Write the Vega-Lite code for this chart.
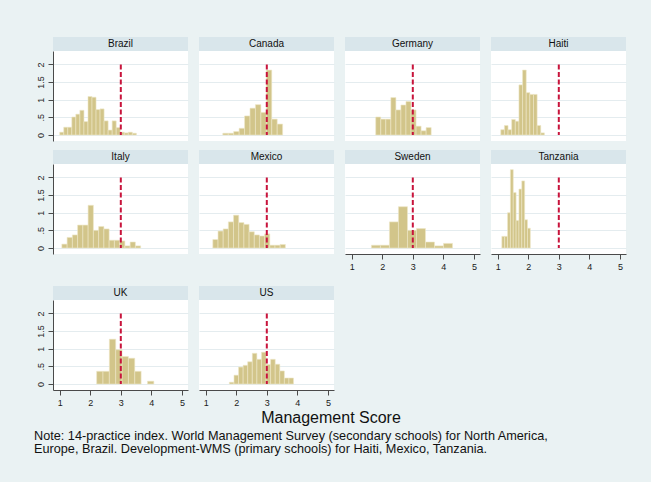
{
  "$schema": "https://vega.github.io/schema/vega-lite/v6.json",
  "background": "#EAF2F3",
  "padding": {"left": 33, "top": 37, "right": 26, "bottom": 26},
  "config": {
    "font": "Liberation Sans",
    "view": {"stroke": null},
    "axis": {"title": null, "domainColor": "#4a4a4a", "tickColor": "#4a4a4a", "labelColor": "#1a1a1a", "labelFontSize": 9, "tickSize": 5, "labelPadding": 3, "gridColor": "#E4ECEF", "gridWidth": 1},
    "axisX": {"grid": false, "labelFlush": false},
    "axisY": {"grid": true, "labelAngle": 270}
  },
  "datasets": {
    "bars": [
      {"country": "Brazil", "score": 1.000, "score_end": 1.132, "density": 0.08},
      {"country": "Brazil", "score": 1.132, "score_end": 1.264, "density": 0.22},
      {"country": "Brazil", "score": 1.264, "score_end": 1.396, "density": 0.22},
      {"country": "Brazil", "score": 1.396, "score_end": 1.528, "density": 0.51},
      {"country": "Brazil", "score": 1.528, "score_end": 1.660, "density": 0.59},
      {"country": "Brazil", "score": 1.660, "score_end": 1.793, "density": 0.70},
      {"country": "Brazil", "score": 1.793, "score_end": 1.925, "density": 0.38},
      {"country": "Brazil", "score": 1.925, "score_end": 2.057, "density": 1.09},
      {"country": "Brazil", "score": 2.057, "score_end": 2.189, "density": 1.07},
      {"country": "Brazil", "score": 2.189, "score_end": 2.321, "density": 0.72},
      {"country": "Brazil", "score": 2.321, "score_end": 2.453, "density": 0.74},
      {"country": "Brazil", "score": 2.453, "score_end": 2.585, "density": 0.40},
      {"country": "Brazil", "score": 2.585, "score_end": 2.717, "density": 0.14},
      {"country": "Brazil", "score": 2.717, "score_end": 2.849, "density": 0.40},
      {"country": "Brazil", "score": 2.849, "score_end": 2.982, "density": 0.21},
      {"country": "Brazil", "score": 2.982, "score_end": 3.114, "density": 0.08},
      {"country": "Brazil", "score": 3.114, "score_end": 3.246, "density": 0.06},
      {"country": "Brazil", "score": 3.246, "score_end": 3.378, "density": 0.08},
      {"country": "Brazil", "score": 3.378, "score_end": 3.510, "density": 0.05},

      {"country": "Canada", "score": 1.560, "score_end": 1.738, "density": 0.05},
      {"country": "Canada", "score": 1.738, "score_end": 1.916, "density": 0.05},
      {"country": "Canada", "score": 1.916, "score_end": 2.094, "density": 0.10},
      {"country": "Canada", "score": 2.094, "score_end": 2.272, "density": 0.19},
      {"country": "Canada", "score": 2.272, "score_end": 2.450, "density": 0.54},
      {"country": "Canada", "score": 2.450, "score_end": 2.628, "density": 0.76},
      {"country": "Canada", "score": 2.628, "score_end": 2.806, "density": 0.86},
      {"country": "Canada", "score": 2.806, "score_end": 2.984, "density": 0.64},
      {"country": "Canada", "score": 2.984, "score_end": 3.162, "density": 1.84},
      {"country": "Canada", "score": 3.162, "score_end": 3.340, "density": 0.45},
      {"country": "Canada", "score": 3.340, "score_end": 3.518, "density": 0.31},

      {"country": "Germany", "score": 1.786, "score_end": 1.951, "density": 0.51},
      {"country": "Germany", "score": 1.951, "score_end": 2.116, "density": 0.45},
      {"country": "Germany", "score": 2.116, "score_end": 2.281, "density": 0.45},
      {"country": "Germany", "score": 2.281, "score_end": 2.446, "density": 1.06},
      {"country": "Germany", "score": 2.446, "score_end": 2.611, "density": 0.71},
      {"country": "Germany", "score": 2.611, "score_end": 2.776, "density": 0.85},
      {"country": "Germany", "score": 2.776, "score_end": 2.941, "density": 0.95},
      {"country": "Germany", "score": 2.941, "score_end": 3.106, "density": 0.71},
      {"country": "Germany", "score": 3.106, "score_end": 3.271, "density": 0.25},
      {"country": "Germany", "score": 3.271, "score_end": 3.436, "density": 0.12},
      {"country": "Germany", "score": 3.436, "score_end": 3.601, "density": 0.21},

      {"country": "Haiti", "score": 1.100, "score_end": 1.219, "density": 0.15},
      {"country": "Haiti", "score": 1.219, "score_end": 1.338, "density": 0.27},
      {"country": "Haiti", "score": 1.338, "score_end": 1.457, "density": 0.15},
      {"country": "Haiti", "score": 1.457, "score_end": 1.576, "density": 0.44},
      {"country": "Haiti", "score": 1.576, "score_end": 1.695, "density": 0.39},
      {"country": "Haiti", "score": 1.695, "score_end": 1.814, "density": 1.42},
      {"country": "Haiti", "score": 1.814, "score_end": 1.933, "density": 1.84},
      {"country": "Haiti", "score": 1.933, "score_end": 2.052, "density": 1.20},
      {"country": "Haiti", "score": 2.052, "score_end": 2.171, "density": 1.15},
      {"country": "Haiti", "score": 2.171, "score_end": 2.290, "density": 1.15},
      {"country": "Haiti", "score": 2.290, "score_end": 2.409, "density": 0.27},
      {"country": "Haiti", "score": 2.409, "score_end": 2.528, "density": 0.06},

      {"country": "Italy", "score": 1.070, "score_end": 1.242, "density": 0.11},
      {"country": "Italy", "score": 1.242, "score_end": 1.414, "density": 0.30},
      {"country": "Italy", "score": 1.414, "score_end": 1.586, "density": 0.37},
      {"country": "Italy", "score": 1.586, "score_end": 1.758, "density": 0.65},
      {"country": "Italy", "score": 1.758, "score_end": 1.930, "density": 0.65},
      {"country": "Italy", "score": 1.930, "score_end": 2.102, "density": 1.21},
      {"country": "Italy", "score": 2.102, "score_end": 2.274, "density": 0.50},
      {"country": "Italy", "score": 2.274, "score_end": 2.446, "density": 0.61},
      {"country": "Italy", "score": 2.446, "score_end": 2.618, "density": 0.54},
      {"country": "Italy", "score": 2.618, "score_end": 2.790, "density": 0.22},
      {"country": "Italy", "score": 2.790, "score_end": 2.962, "density": 0.22},
      {"country": "Italy", "score": 2.962, "score_end": 3.134, "density": 0.20},
      {"country": "Italy", "score": 3.134, "score_end": 3.306, "density": 0.06},
      {"country": "Italy", "score": 3.306, "score_end": 3.478, "density": 0.17},
      {"country": "Italy", "score": 3.478, "score_end": 3.650, "density": 0.06},

      {"country": "Mexico", "score": 1.233, "score_end": 1.403, "density": 0.24},
      {"country": "Mexico", "score": 1.403, "score_end": 1.572, "density": 0.48},
      {"country": "Mexico", "score": 1.572, "score_end": 1.742, "density": 0.54},
      {"country": "Mexico", "score": 1.742, "score_end": 1.911, "density": 0.74},
      {"country": "Mexico", "score": 1.911, "score_end": 2.081, "density": 0.93},
      {"country": "Mexico", "score": 2.081, "score_end": 2.251, "density": 0.72},
      {"country": "Mexico", "score": 2.251, "score_end": 2.420, "density": 0.67},
      {"country": "Mexico", "score": 2.420, "score_end": 2.590, "density": 0.46},
      {"country": "Mexico", "score": 2.590, "score_end": 2.759, "density": 0.37},
      {"country": "Mexico", "score": 2.759, "score_end": 2.929, "density": 0.34},
      {"country": "Mexico", "score": 2.929, "score_end": 3.098, "density": 0.40},
      {"country": "Mexico", "score": 3.098, "score_end": 3.268, "density": 0.08},
      {"country": "Mexico", "score": 3.268, "score_end": 3.437, "density": 0.08},
      {"country": "Mexico", "score": 3.437, "score_end": 3.607, "density": 0.10},

      {"country": "Sweden", "score": 1.645, "score_end": 1.940, "density": 0.08},
      {"country": "Sweden", "score": 1.940, "score_end": 2.235, "density": 0.08},
      {"country": "Sweden", "score": 2.235, "score_end": 2.530, "density": 0.74},
      {"country": "Sweden", "score": 2.530, "score_end": 2.825, "density": 1.17},
      {"country": "Sweden", "score": 2.825, "score_end": 3.120, "density": 0.50},
      {"country": "Sweden", "score": 3.120, "score_end": 3.415, "density": 0.55},
      {"country": "Sweden", "score": 3.415, "score_end": 3.710, "density": 0.17},
      {"country": "Sweden", "score": 3.710, "score_end": 4.005, "density": 0.06},
      {"country": "Sweden", "score": 4.005, "score_end": 4.300, "density": 0.13},

      {"country": "Tanzania", "score": 1.135, "score_end": 1.228, "density": 0.33},
      {"country": "Tanzania", "score": 1.228, "score_end": 1.322, "density": 0.33},
      {"country": "Tanzania", "score": 1.322, "score_end": 1.415, "density": 1.00},
      {"country": "Tanzania", "score": 1.415, "score_end": 1.508, "density": 2.22},
      {"country": "Tanzania", "score": 1.508, "score_end": 1.602, "density": 1.57},
      {"country": "Tanzania", "score": 1.602, "score_end": 1.695, "density": 0.78},
      {"country": "Tanzania", "score": 1.695, "score_end": 1.788, "density": 1.67},
      {"country": "Tanzania", "score": 1.788, "score_end": 1.882, "density": 1.90},
      {"country": "Tanzania", "score": 1.882, "score_end": 1.975, "density": 0.80},
      {"country": "Tanzania", "score": 1.975, "score_end": 2.068, "density": 0.56},

      {"country": "UK", "score": 2.209, "score_end": 2.417, "density": 0.36},
      {"country": "UK", "score": 2.417, "score_end": 2.625, "density": 0.36},
      {"country": "UK", "score": 2.625, "score_end": 2.833, "density": 1.27},
      {"country": "UK", "score": 2.833, "score_end": 3.041, "density": 0.97},
      {"country": "UK", "score": 3.041, "score_end": 3.249, "density": 0.78},
      {"country": "UK", "score": 3.249, "score_end": 3.457, "density": 0.73},
      {"country": "UK", "score": 3.457, "score_end": 3.665, "density": 0.36},
      {"country": "UK", "score": 3.873, "score_end": 4.081, "density": 0.08},

      {"country": "US", "score": 1.775, "score_end": 1.925, "density": 0.05},
      {"country": "US", "score": 1.925, "score_end": 2.075, "density": 0.25},
      {"country": "US", "score": 2.075, "score_end": 2.225, "density": 0.48},
      {"country": "US", "score": 2.225, "score_end": 2.375, "density": 0.53},
      {"country": "US", "score": 2.375, "score_end": 2.525, "density": 0.63},
      {"country": "US", "score": 2.525, "score_end": 2.675, "density": 0.87},
      {"country": "US", "score": 2.675, "score_end": 2.825, "density": 0.70},
      {"country": "US", "score": 2.825, "score_end": 2.975, "density": 0.90},
      {"country": "US", "score": 2.975, "score_end": 3.125, "density": 0.55},
      {"country": "US", "score": 3.125, "score_end": 3.275, "density": 0.70},
      {"country": "US", "score": 3.275, "score_end": 3.425, "density": 0.56},
      {"country": "US", "score": 3.425, "score_end": 3.575, "density": 0.37},
      {"country": "US", "score": 3.575, "score_end": 3.725, "density": 0.17},
      {"country": "US", "score": 3.725, "score_end": 3.875, "density": 0.17}
    ]
  },
  "title": {
    "text": ["Note: 14-practice index. World Management Survey (secondary schools) for North America,", "Europe, Brazil. Development-WMS (primary schools) for Haiti, Mexico, Tanzania."],
    "orient": "bottom", "anchor": "start", "fontSize": 12.7, "fontWeight": "normal", "lineHeight": 13, "offset": 4, "dx": -2, "color": "#111111"
  },
  "vconcat": [
    {
      "title": {"text": "Management Score", "orient": "bottom", "anchor": "middle", "fontSize": 16, "fontWeight": "normal", "offset": 3, "color": "#111111"},
      "spacing": 15,
      "vconcat": [
        {
          "spacing": 9,
          "vconcat": [
            {
              "concat": [
                {"width": 135, "height": 14, "view": {"fill": "#D9E6EB", "stroke": null}, "data": {"values": [{"country": "Brazil"}]}, "mark": {"type": "text", "fontSize": 10, "color": "#111111"}, "encoding": {"text": {"field": "country", "type": "nominal"}}},
                {"width": 135, "height": 14, "view": {"fill": "#D9E6EB", "stroke": null}, "data": {"values": [{"country": "Canada"}]}, "mark": {"type": "text", "fontSize": 10, "color": "#111111"}, "encoding": {"text": {"field": "country", "type": "nominal"}}},
                {"width": 135, "height": 14, "view": {"fill": "#D9E6EB", "stroke": null}, "data": {"values": [{"country": "Germany"}]}, "mark": {"type": "text", "fontSize": 10, "color": "#111111"}, "encoding": {"text": {"field": "country", "type": "nominal"}}},
                {"width": 135, "height": 14, "view": {"fill": "#D9E6EB", "stroke": null}, "data": {"values": [{"country": "Haiti"}]}, "mark": {"type": "text", "fontSize": 10, "color": "#111111"}, "encoding": {"text": {"field": "country", "type": "nominal"}}},
                {
                  "width": 135, "height": 90, "view": {"fill": "white", "stroke": null},
                  "encoding": {
                    "x": {"field": "score", "type": "quantitative", "scale": {"domain": [0.78, 5.2], "nice": false, "zero": false}, "axis": null},
                    "y": {"field": "density", "type": "quantitative", "scale": {"domain": [-0.17, 2.38], "nice": false, "zero": false}, "axis": {"values": [0, 0.5, 1, 1.5, 2], "labelExpr": "datum.value == 0.5 ? '.5' : format(datum.value, '~g')"}},
                    "y2": {"datum": 0}
                  },
                  "layer": [
                    {"data": {"name": "bars"}, "transform": [{"filter": "datum.country === 'Brazil'"}], "mark": {"type": "rect", "fill": "#D2C58A", "stroke": "#EEE8C8", "strokeWidth": 0.6}, "encoding": {"x2": {"field": "score_end"}}},
                    {"data": {"values": [{"score": 3, "density": 2}]}, "mark": {"type": "rule", "color": "#C8143C", "strokeWidth": 2, "strokeDash": [5, 2.5]}}
                  ]
                },
                {
                  "width": 135, "height": 90, "view": {"fill": "white", "stroke": null},
                  "encoding": {
                    "x": {"field": "score", "type": "quantitative", "scale": {"domain": [0.78, 5.2], "nice": false, "zero": false}, "axis": null},
                    "y": {"field": "density", "type": "quantitative", "scale": {"domain": [-0.17, 2.38], "nice": false, "zero": false}, "axis": {"values": [0, 0.5, 1, 1.5, 2], "domain": false, "ticks": false, "labels": false}},
                    "y2": {"datum": 0}
                  },
                  "layer": [
                    {"data": {"name": "bars"}, "transform": [{"filter": "datum.country === 'Canada'"}], "mark": {"type": "rect", "fill": "#D2C58A", "stroke": "#EEE8C8", "strokeWidth": 0.6}, "encoding": {"x2": {"field": "score_end"}}},
                    {"data": {"values": [{"score": 3, "density": 2}]}, "mark": {"type": "rule", "color": "#C8143C", "strokeWidth": 2, "strokeDash": [5, 2.5]}}
                  ]
                },
                {
                  "width": 135, "height": 90, "view": {"fill": "white", "stroke": null},
                  "encoding": {
                    "x": {"field": "score", "type": "quantitative", "scale": {"domain": [0.78, 5.2], "nice": false, "zero": false}, "axis": null},
                    "y": {"field": "density", "type": "quantitative", "scale": {"domain": [-0.17, 2.38], "nice": false, "zero": false}, "axis": {"values": [0, 0.5, 1, 1.5, 2], "domain": false, "ticks": false, "labels": false}},
                    "y2": {"datum": 0}
                  },
                  "layer": [
                    {"data": {"name": "bars"}, "transform": [{"filter": "datum.country === 'Germany'"}], "mark": {"type": "rect", "fill": "#D2C58A", "stroke": "#EEE8C8", "strokeWidth": 0.6}, "encoding": {"x2": {"field": "score_end"}}},
                    {"data": {"values": [{"score": 3, "density": 2}]}, "mark": {"type": "rule", "color": "#C8143C", "strokeWidth": 2, "strokeDash": [5, 2.5]}}
                  ]
                },
                {
                  "width": 135, "height": 90, "view": {"fill": "white", "stroke": null},
                  "encoding": {
                    "x": {"field": "score", "type": "quantitative", "scale": {"domain": [0.78, 5.2], "nice": false, "zero": false}, "axis": null},
                    "y": {"field": "density", "type": "quantitative", "scale": {"domain": [-0.17, 2.38], "nice": false, "zero": false}, "axis": {"values": [0, 0.5, 1, 1.5, 2], "domain": false, "ticks": false, "labels": false}},
                    "y2": {"datum": 0}
                  },
                  "layer": [
                    {"data": {"name": "bars"}, "transform": [{"filter": "datum.country === 'Haiti'"}], "mark": {"type": "rect", "fill": "#D2C58A", "stroke": "#EEE8C8", "strokeWidth": 0.6}, "encoding": {"x2": {"field": "score_end"}}},
                    {"data": {"values": [{"score": 3, "density": 2}]}, "mark": {"type": "rule", "color": "#C8143C", "strokeWidth": 2, "strokeDash": [5, 2.5]}}
                  ]
                }
              ],
              "columns": 4,
              "spacing": {"row": 0, "column": 11},
              "bounds": "flush"
            },
            {
              "concat": [
                {"width": 135, "height": 14, "view": {"fill": "#D9E6EB", "stroke": null}, "data": {"values": [{"country": "Italy"}]}, "mark": {"type": "text", "fontSize": 10, "color": "#111111"}, "encoding": {"text": {"field": "country", "type": "nominal"}}},
                {"width": 135, "height": 14, "view": {"fill": "#D9E6EB", "stroke": null}, "data": {"values": [{"country": "Mexico"}]}, "mark": {"type": "text", "fontSize": 10, "color": "#111111"}, "encoding": {"text": {"field": "country", "type": "nominal"}}},
                {"width": 135, "height": 14, "view": {"fill": "#D9E6EB", "stroke": null}, "data": {"values": [{"country": "Sweden"}]}, "mark": {"type": "text", "fontSize": 10, "color": "#111111"}, "encoding": {"text": {"field": "country", "type": "nominal"}}},
                {"width": 135, "height": 14, "view": {"fill": "#D9E6EB", "stroke": null}, "data": {"values": [{"country": "Tanzania"}]}, "mark": {"type": "text", "fontSize": 10, "color": "#111111"}, "encoding": {"text": {"field": "country", "type": "nominal"}}},
                {
                  "width": 135, "height": 90, "view": {"fill": "white", "stroke": null},
                  "encoding": {
                    "x": {"field": "score", "type": "quantitative", "scale": {"domain": [0.78, 5.2], "nice": false, "zero": false}, "axis": null},
                    "y": {"field": "density", "type": "quantitative", "scale": {"domain": [-0.17, 2.38], "nice": false, "zero": false}, "axis": {"values": [0, 0.5, 1, 1.5, 2], "labelExpr": "datum.value == 0.5 ? '.5' : format(datum.value, '~g')"}},
                    "y2": {"datum": 0}
                  },
                  "layer": [
                    {"data": {"name": "bars"}, "transform": [{"filter": "datum.country === 'Italy'"}], "mark": {"type": "rect", "fill": "#D2C58A", "stroke": "#EEE8C8", "strokeWidth": 0.6}, "encoding": {"x2": {"field": "score_end"}}},
                    {"data": {"values": [{"score": 3, "density": 2}]}, "mark": {"type": "rule", "color": "#C8143C", "strokeWidth": 2, "strokeDash": [5, 2.5]}}
                  ]
                },
                {
                  "width": 135, "height": 90, "view": {"fill": "white", "stroke": null},
                  "encoding": {
                    "x": {"field": "score", "type": "quantitative", "scale": {"domain": [0.78, 5.2], "nice": false, "zero": false}, "axis": null},
                    "y": {"field": "density", "type": "quantitative", "scale": {"domain": [-0.17, 2.38], "nice": false, "zero": false}, "axis": {"values": [0, 0.5, 1, 1.5, 2], "domain": false, "ticks": false, "labels": false}},
                    "y2": {"datum": 0}
                  },
                  "layer": [
                    {"data": {"name": "bars"}, "transform": [{"filter": "datum.country === 'Mexico'"}], "mark": {"type": "rect", "fill": "#D2C58A", "stroke": "#EEE8C8", "strokeWidth": 0.6}, "encoding": {"x2": {"field": "score_end"}}},
                    {"data": {"values": [{"score": 3, "density": 2}]}, "mark": {"type": "rule", "color": "#C8143C", "strokeWidth": 2, "strokeDash": [5, 2.5]}}
                  ]
                },
                {
                  "width": 135, "height": 90, "view": {"fill": "white", "stroke": null},
                  "encoding": {
                    "x": {"field": "score", "type": "quantitative", "scale": {"domain": [0.78, 5.2], "nice": false, "zero": false}, "axis": {"values": [1, 2, 3, 4, 5], "format": "d"}},
                    "y": {"field": "density", "type": "quantitative", "scale": {"domain": [-0.17, 2.38], "nice": false, "zero": false}, "axis": {"values": [0, 0.5, 1, 1.5, 2], "domain": false, "ticks": false, "labels": false}},
                    "y2": {"datum": 0}
                  },
                  "layer": [
                    {"data": {"name": "bars"}, "transform": [{"filter": "datum.country === 'Sweden'"}], "mark": {"type": "rect", "fill": "#D2C58A", "stroke": "#EEE8C8", "strokeWidth": 0.6}, "encoding": {"x2": {"field": "score_end"}}},
                    {"data": {"values": [{"score": 3, "density": 2}]}, "mark": {"type": "rule", "color": "#C8143C", "strokeWidth": 2, "strokeDash": [5, 2.5]}}
                  ]
                },
                {
                  "width": 135, "height": 90, "view": {"fill": "white", "stroke": null},
                  "encoding": {
                    "x": {"field": "score", "type": "quantitative", "scale": {"domain": [0.78, 5.2], "nice": false, "zero": false}, "axis": {"values": [1, 2, 3, 4, 5], "format": "d"}},
                    "y": {"field": "density", "type": "quantitative", "scale": {"domain": [-0.17, 2.38], "nice": false, "zero": false}, "axis": {"values": [0, 0.5, 1, 1.5, 2], "domain": false, "ticks": false, "labels": false}},
                    "y2": {"datum": 0}
                  },
                  "layer": [
                    {"data": {"name": "bars"}, "transform": [{"filter": "datum.country === 'Tanzania'"}], "mark": {"type": "rect", "fill": "#D2C58A", "stroke": "#EEE8C8", "strokeWidth": 0.6}, "encoding": {"x2": {"field": "score_end"}}},
                    {"data": {"values": [{"score": 3, "density": 2}]}, "mark": {"type": "rule", "color": "#C8143C", "strokeWidth": 2, "strokeDash": [5, 2.5]}}
                  ]
                }
              ],
              "columns": 4,
              "spacing": {"row": 0, "column": 11},
              "bounds": "flush"
            }
          ]
        },
        {
          "concat": [
            {"width": 135, "height": 14, "view": {"fill": "#D9E6EB", "stroke": null}, "data": {"values": [{"country": "UK"}]}, "mark": {"type": "text", "fontSize": 10, "color": "#111111"}, "encoding": {"text": {"field": "country", "type": "nominal"}}},
            {"width": 135, "height": 14, "view": {"fill": "#D9E6EB", "stroke": null}, "data": {"values": [{"country": "US"}]}, "mark": {"type": "text", "fontSize": 10, "color": "#111111"}, "encoding": {"text": {"field": "country", "type": "nominal"}}},
            {
              "width": 135, "height": 90, "view": {"fill": "white", "stroke": null},
              "encoding": {
                "x": {"field": "score", "type": "quantitative", "scale": {"domain": [0.78, 5.2], "nice": false, "zero": false}, "axis": {"values": [1, 2, 3, 4, 5], "format": "d"}},
                "y": {"field": "density", "type": "quantitative", "scale": {"domain": [-0.17, 2.38], "nice": false, "zero": false}, "axis": {"values": [0, 0.5, 1, 1.5, 2], "labelExpr": "datum.value == 0.5 ? '.5' : format(datum.value, '~g')"}},
                "y2": {"datum": 0}
              },
              "layer": [
                {"data": {"name": "bars"}, "transform": [{"filter": "datum.country === 'UK'"}], "mark": {"type": "rect", "fill": "#D2C58A", "stroke": "#EEE8C8", "strokeWidth": 0.6}, "encoding": {"x2": {"field": "score_end"}}},
                {"data": {"values": [{"score": 3, "density": 2}]}, "mark": {"type": "rule", "color": "#C8143C", "strokeWidth": 2, "strokeDash": [5, 2.5]}}
              ]
            },
            {
              "width": 135, "height": 90, "view": {"fill": "white", "stroke": null},
              "encoding": {
                "x": {"field": "score", "type": "quantitative", "scale": {"domain": [0.78, 5.2], "nice": false, "zero": false}, "axis": {"values": [1, 2, 3, 4, 5], "format": "d"}},
                "y": {"field": "density", "type": "quantitative", "scale": {"domain": [-0.17, 2.38], "nice": false, "zero": false}, "axis": {"values": [0, 0.5, 1, 1.5, 2], "domain": false, "ticks": false, "labels": false}},
                "y2": {"datum": 0}
              },
              "layer": [
                {"data": {"name": "bars"}, "transform": [{"filter": "datum.country === 'US'"}], "mark": {"type": "rect", "fill": "#D2C58A", "stroke": "#EEE8C8", "strokeWidth": 0.6}, "encoding": {"x2": {"field": "score_end"}}},
                {"data": {"values": [{"score": 3, "density": 2}]}, "mark": {"type": "rule", "color": "#C8143C", "strokeWidth": 2, "strokeDash": [5, 2.5]}}
              ]
            }
          ],
          "columns": 2,
          "spacing": {"row": 0, "column": 11},
          "bounds": "flush"
        }
      ]
    }
  ]
}
